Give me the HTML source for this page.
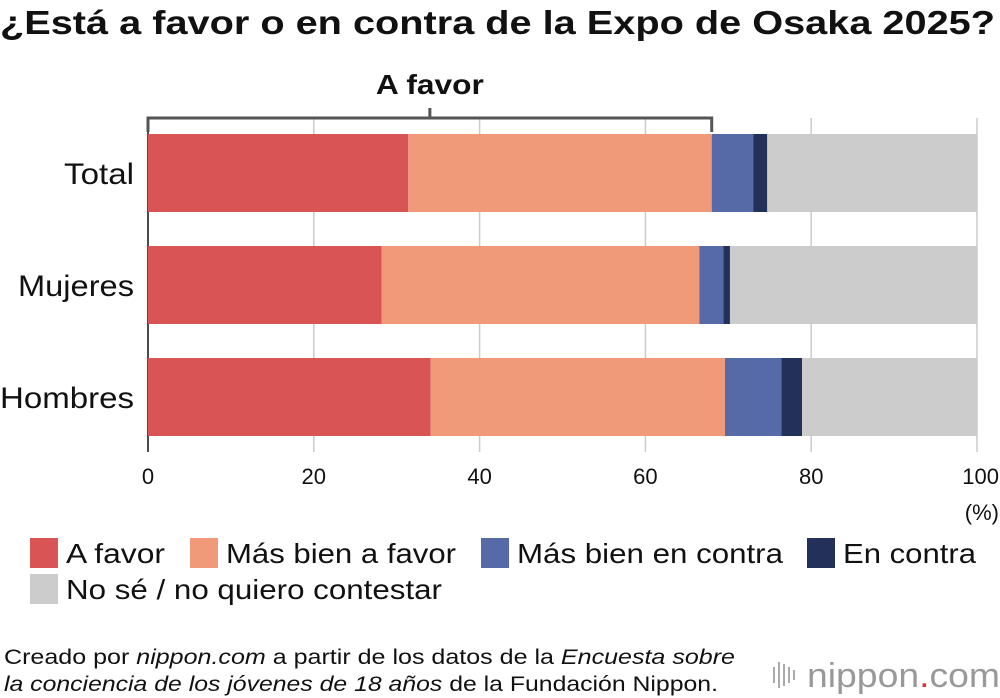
<!DOCTYPE html>
<html><head><meta charset="utf-8"><style>
body{margin:0;background:#fff;font-family:"Liberation Sans",sans-serif;}
#wrap{position:relative;width:1000px;height:698px;overflow:hidden;}
</style></head><body>
<div id="wrap">
<svg id="chart" width="1000" height="698" xmlns="http://www.w3.org/2000/svg">
<text x="0" y="34" font-size="33" font-weight="bold" fill="#111" textLength="995" lengthAdjust="spacingAndGlyphs">¿Está a favor o en contra de la Expo de Osaka 2025?</text>
<g id="grid"></g>
<g id="bars"></g>
<g id="bracket"></g>
<g id="labels"></g>
<text x="999" y="520" font-size="22" text-anchor="end" fill="#111">(%)</text>
<g id="legend"></g>
<text x="4" y="664" font-size="21" fill="#111" textLength="731" lengthAdjust="spacingAndGlyphs">Creado por <tspan font-style="italic">nippon.com</tspan> a partir de los datos de la <tspan font-style="italic">Encuesta sobre</tspan></text>
<text x="4" y="691" font-size="21" fill="#111" textLength="714" lengthAdjust="spacingAndGlyphs"><tspan font-style="italic">la conciencia de los jóvenes de 18 años</tspan> de la Fundación Nippon.</text>
<g>
<rect x="773" y="667" width="2" height="16" fill="#aaa"/><rect x="778" y="662" width="2" height="26" fill="#aaa"/><rect x="783" y="664" width="2" height="22" fill="#aaa"/><rect x="788" y="667" width="2" height="16" fill="#aaa"/><rect x="793" y="670" width="2" height="10" fill="#aaa"/>
<text x="807" y="687" font-size="34" fill="#999" textLength="193" lengthAdjust="spacingAndGlyphs">nippon<tspan fill="#d33">.</tspan>com</text>
</g>
</svg>
</div>
<script>
const categories=["Total","Mujeres","Hombres"];
const seriesNames=["A favor","Más bien a favor","Más bien en contra","En contra","No sé / no quiero contestar"];
const aFavor=[31.4,28.2,34.1];
const masBienAFavor=[36.6,38.3,35.5];
const masBienEnContra=[5.0,2.9,6.8];
const enContra=[1.7,0.8,2.5];
const noSe=[25.3,29.8,21.1];
const tickLabels=[0,20,40,60,80,100];
const colors=["#d95555","#f09a7a","#566aa8","#22305a","#cccccc"];
const NS="http://www.w3.org/2000/svg";
const x0=148,x1=977;
const xs=v=>x0+(x1-x0)*v/100;
const bandTop=[134,246,358],barH=78;
function el(t,a,p){const e=document.createElementNS(NS,t);for(const k in a)e.setAttribute(k,a[k]);p.appendChild(e);return e;}
const grid=document.getElementById('grid'),bars=document.getElementById('bars'),labels=document.getElementById('labels');
tickLabels.forEach(t=>{
 const l=el('line',{x1:xs(t),x2:xs(t),y1:118,y2:452,stroke:t===0?'#333':'#ccc','stroke-width':1.5},grid);
 
 
 const tx=el('text',{x:t===100?999:xs(t),y:484,'font-size':22,'text-anchor':t===100?'end':'middle',fill:'#111'},labels);
 tx.textContent=t;
 
 
});
const series=[aFavor,masBienAFavor,masBienEnContra,enContra,noSe];
const catW=[70,116,134];
categories.forEach((c,i)=>{
 let acc=0;
 series.forEach((s,j)=>{
  const r=el('rect',{x:xs(acc),y:bandTop[i],width:xs(acc+s[i])-xs(acc),height:barH,fill:colors[j]},bars);
  
  
  acc+=s[i];
 });
 const t=el('text',{x:134,y:bandTop[i]+barH/2+11,'font-size':30,'text-anchor':'end',fill:'#111',textLength:catW[i],lengthAdjust:'spacingAndGlyphs'},labels);
 t.textContent=c;
 
 
});
el('line',{x1:x0,x2:x0,y1:118,y2:452,stroke:'#333','stroke-width':1.5},grid);
const br=document.getElementById('bracket');
const bEnd=xs(aFavor[0]+masBienAFavor[0]),bMid=(x0+bEnd)/2;
el('path',{d:`M${x0} 132 V118 H${bEnd} V132 M${bMid} 118 V108`,stroke:'#555','stroke-width':3,fill:'none'},br);
const bt=el('text',{x:bMid,y:94,'font-size':28,'font-weight':'bold','text-anchor':'middle',fill:'#111',textLength:108,lengthAdjust:'spacingAndGlyphs'},br);
bt.textContent='A favor';
const lg=document.getElementById('legend');
const sqX=[30,190,481,807,30], txW=[99,230,266,133,376], rowY=[538,538,538,538,574];
seriesNames.forEach((n,j)=>{
 const g=el('g',{},lg);
 
 
 el('rect',{x:sqX[j],y:rowY[j],width:28,height:30,fill:colors[j]},g);
 const t=el('text',{x:sqX[j]+36,y:rowY[j]+25,'font-size':28,fill:'#111',textLength:txW[j],lengthAdjust:'spacingAndGlyphs'},g);
 t.textContent=n;
});
</script>
</body></html>
